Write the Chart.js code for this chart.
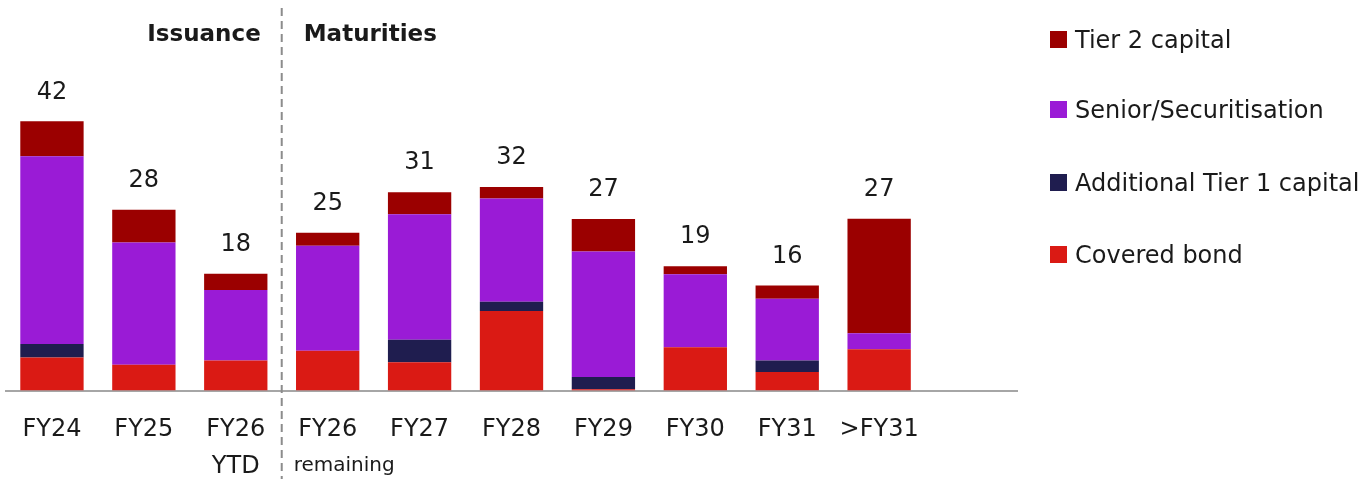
<!DOCTYPE html>
<html>
<head>
<meta charset="utf-8">
<script src="https://cdn.jsdelivr.net/npm/chart.js@4.4.1/dist/chart.umd.min.js"></script>
<style>
  html, body { margin: 0; padding: 0; background: #ffffff; }
  #wrap { position: relative; width: 1362px; height: 479px; overflow: hidden; }
  canvas { position: absolute; left: 0; top: 0; }
  .leg { position: absolute; left: 1050px; font-family: "DejaVu Sans", sans-serif; font-size: 24px; color: #1a1a1a; white-space: nowrap; line-height: 30px; height: 30px; }
  .leg span.sw { position: absolute; left: 0; top: 6px; width: 17px; height: 17px; }
  .leg span.tx { position: absolute; left: 25px; top: 0; }
</style>
</head>
<body>
<div id="wrap">
  <canvas id="c" width="1362" height="479"></canvas>
</div>
<script>
const categories = [["FY24"], ["FY25"], ["FY26", "YTD"], ["FY26"], ["FY27"], ["FY28"], ["FY29"], ["FY30"], ["FY31"], [">FY31"], [""]];
const coveredBond = [5.15, 4.0, 4.7, 6.2, 4.4, 12.4, 0.2, 6.75, 2.9, 6.45];
const additionalTier1 = [2.1, 0, 0, 0, 3.5, 1.45, 1.9, 0, 1.8, 0];
const seniorSecuritisation = [29.3, 19.1, 11.0, 16.4, 19.6, 16.1, 19.6, 11.4, 9.6, 2.5];
const tier2 = [5.45, 5.1, 2.5, 2.0, 3.45, 1.8, 5.05, 1.25, 2.1, 17.85];
const totalLabels = ["42", "28", "18", "25", "31", "32", "27", "19", "16", "27"];
const seriesNames = ["Covered bond", "Additional Tier 1 capital", "Senior/Securitisation", "Tier 2 capital"];
const seriesColors = ["#da1a14", "#1f1d4f", "#9a1bd6", "#9b0000"];

const FONT = '"DejaVu Sans", sans-serif';
const seriesData = [coveredBond, additionalTier1, seniorSecuritisation, tier2];

const overlay = {
  id: 'overlay',
  afterDraw(chart) {
    const ctx = chart.ctx;
    const xs = chart.scales.x, ys = chart.scales.y;
    ctx.save();
    // totals
    ctx.fillStyle = '#1a1a1a';
    ctx.font = '24px ' + FONT;
    ctx.textAlign = 'center';
    ctx.textBaseline = 'middle';
    for (let i = 0; i < totalLabels.length; i++) {
      let s = 0;
      seriesData.forEach(d => s += d[i]);
      const x = xs.getPixelForValue(i);
      const y = ys.getPixelForValue(s);
      ctx.fillText(totalLabels[i], x, y - 29);
    }
    // dashed separator
    const sepX = (xs.getPixelForValue(2) + xs.getPixelForValue(3)) / 2;
    ctx.strokeStyle = '#8c8c8c';
    ctx.lineWidth = 2;
    ctx.setLineDash([8, 5]);
    ctx.beginPath();
    ctx.moveTo(sepX, 8);
    ctx.lineTo(sepX, 479);
    ctx.stroke();
    ctx.setLineDash([]);
    // section titles
    ctx.font = 'bold 23px ' + FONT;
    ctx.textBaseline = 'middle';
    ctx.textAlign = 'right';
    ctx.fillText('Issuance', sepX - 21, 35);
    ctx.textAlign = 'left';
    ctx.fillText('Maturities', sepX + 22, 35);
    // 'remaining'
    ctx.font = '20px ' + FONT;
    ctx.fillText('remaining', sepX + 12, 466);
    ctx.restore();
  }
};

new Chart(document.getElementById('c'), {
  type: 'bar',
  data: {
    labels: categories,
    datasets: seriesData.map((d, k) => ({
      label: seriesNames[k],
      data: d,
      backgroundColor: seriesColors[k],
      borderWidth: 0,
      barPercentage: 0.689,
      categoryPercentage: 1.0
    }))
  },
  options: {
    responsive: false,
    animation: false,
    layout: { padding: { left: 6, right: 345, top: 6, bottom: 0 } },
    plugins: { legend: { display: false }, tooltip: { enabled: false } },
    scales: {
      x: {
        stacked: true,
        grid: { display: false, drawTicks: false },
        border: { display: true, color: '#a6a6a6', width: 2 },
        ticks: { color: '#1a1a1a', font: { family: FONT, size: 24, lineHeight: 1.57 }, padding: 20, maxRotation: 0, autoSkip: false },
        afterFit(scale) { scale.height = 88.5; }
      },
      y: {
        stacked: true,
        display: false,
        min: 0,
        max: 60
      }
    }
  },
  plugins: [overlay]
});

// legend (HTML)
const legendOrder = [3, 2, 1, 0];
const legendY = [40, 110, 183, 255];
const wrap = document.getElementById('wrap');
legendOrder.forEach((k, j) => {
  const d = document.createElement('div');
  d.className = 'leg';
  d.style.top = (legendY[j] - 15) + 'px';
  d.innerHTML = '<span class="sw" style="background:' + seriesColors[k] + '"></span><span class="tx">' + seriesNames[k] + '</span>';
  wrap.appendChild(d);
});
</script>
</body>
</html>
